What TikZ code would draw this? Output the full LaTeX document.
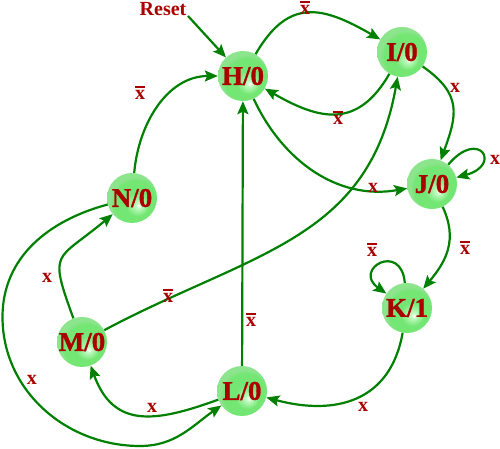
\documentclass[tikz,border=0pt]{standalone}
\usepackage{fontspec}
\setmainfont{Liberation Serif}
\newfontfamily\statefont[FakeBold=1.2]{Liberation Serif Bold}
\usetikzlibrary{arrows.meta}
\definecolor{ered}{RGB}{170,0,0}
\definecolor{egreen}{RGB}{0,128,0}
\definecolor{gA}{RGB}{190,250,190}
\definecolor{gB}{RGB}{115,230,115}
\definecolor{gC}{RGB}{140,228,140}
\pgfdeclareradialshading{gball}{\pgfqpoint{7bp}{-8bp}}{color(0bp)=(white); color(3bp)=(gA); color(12bp)=(gB); color(22bp)=(gB); color(25bp)=(gC); color(50bp)=(gC)}
\newcommand{\xb}{\leavevmode\rlap{\rule[0.6em]{0.5em}{0.08em}}x}
\tikzset{
  st/.style={circle, shading=gball, minimum size=50pt, inner sep=0pt, text=ered, font=\fontsize{27}{27}\statefont},
  e/.style={draw=egreen, line width=2.2pt, -{Stealth[length=13pt,width=11pt,inset=2.5pt]}},
  lbl/.style={text=ered, font=\fontsize{20}{20}\selectfont\bfseries, inner sep=0pt},
}
\begin{document}
\begin{tikzpicture}[x=1pt,y=1pt]
\useasboundingbox (0,0) rectangle (500,449);
% states
\node[st] (H) at (243,373) {H/0};
\node[st] (I) at (402,397) {I/0};
\node[st] (J) at (432,265) {J/0};
\node[st] (K) at (407,141) {K/1};
\node[st] (L) at (242,58) {L/0};
\node[st] (M) at (82,107) {M/0};
\node[st] (N) at (132,251) {N/0};
% reset
\node[lbl, font=\fontsize{20}{20}\selectfont\bfseries] (rst) at (163,440) {Reset};
\coordinate (rs) at (188,433);
\draw[e] (rs) -- (H);
% waypoints of the long N->L arc
\coordinate (w1) at (2.5,132);
\coordinate (w2) at (140,3);
% transitions
\draw[e] (H) to[out=60,in=150,looseness=1.35] (I);
\draw[e] (I) to[out=-120,in=-30,looseness=1.3] (H);
\draw[e] (I) to[out=-35,in=70,looseness=1.3] (J);
\draw[e] (J) to[out=50,in=15,distance=48pt] (J);
\draw[e] (H) to[out=-65,in=190] (J);
\draw[e] (J) to[out=-65,in=50,looseness=1.1] (K);
\draw[e] (K) to[out=95,in=145,distance=42pt] (K);
\draw[e] (K) to[out=-100,in=-15,looseness=1.2] (L);
\draw[e] (L) -- (H);
\draw[e] (L) to[out=200,in=-70,looseness=1.3] (M);
\draw[e] (M) to[out=28,in=-100,looseness=1.1] (I);
\draw[e] (M) to[out=110,in=220,looseness=1.7] (N);
\draw[e] (N) to[out=195,in=90] (w1) to[out=-90,in=180] (w2) to[out=0,in=215] (L);
\draw[e] (N) to[out=85,in=180] (H);
% labels
\node[lbl] (l1) at (305,441) {\xb};
\node[lbl] (l2) at (338,331) {\xb};
\node[lbl] (l3) at (455,361) {x};
\node[lbl] (l4) at (495,289) {x};
\node[lbl] (l5) at (373,261) {x};
\node[lbl] (l6) at (465,201) {\xb};
\node[lbl] (l7) at (372,199) {\xb};
\node[lbl] (l8) at (363,42) {x};
\node[lbl] (l9) at (251,129) {\xb};
\node[lbl] (l10) at (152,41) {x};
\node[lbl] (l11) at (32,69) {x};
\node[lbl] (l12) at (47,171) {x};
\node[lbl] (l13) at (168,153) {\xb};
\node[lbl] (l14) at (140,356) {\xb};
\end{tikzpicture}
\end{document}
